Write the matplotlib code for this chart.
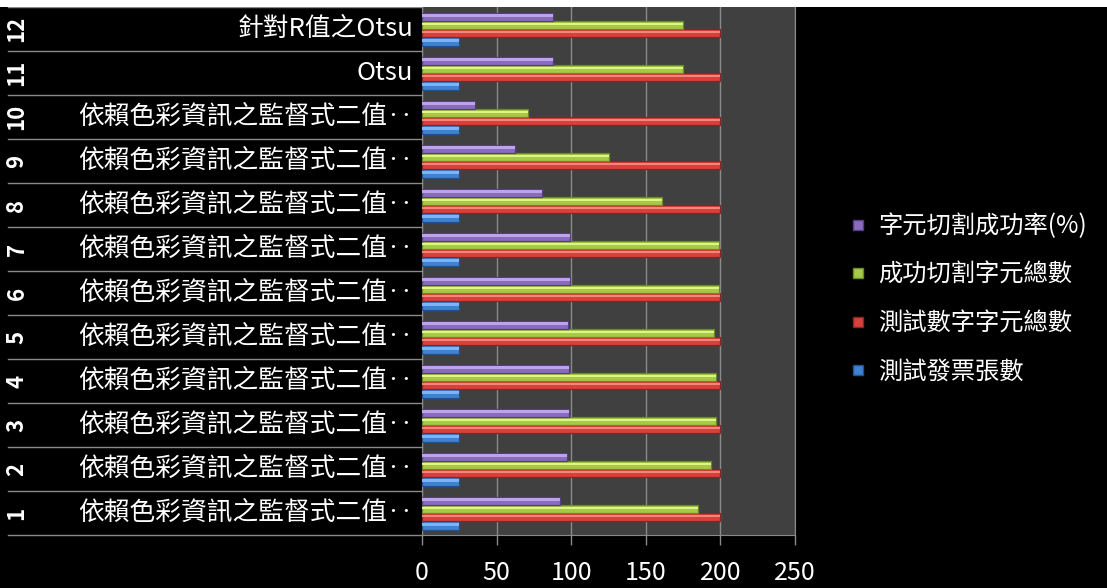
import matplotlib
matplotlib.use("Agg")
import matplotlib.pyplot as plt
import matplotlib.transforms as mtransforms
from matplotlib.patches import Rectangle
from matplotlib.lines import Line2D
import numpy as np

plt.rcParams['font.family'] = ['Noto Sans CJK TC', 'DejaVu Sans']

# data, row 1 at the bottom
ROW_NUMBERS = [str(i) for i in range(1, 13)]
METHODS = ["依賴色彩資訊之監督式二值‥"] * 10 + ["Otsu", "針對R值之Otsu"]
INVOICES = [25, 25, 25, 25, 25, 25, 25, 25, 25, 25, 25, 25]
TEST_CHARS = [200, 200, 200, 200, 200, 200, 200, 200, 200, 200, 200, 200]
SEGMENTED = [185, 194, 197, 197, 196, 199, 199, 161, 125, 71, 175, 175]
SUCCESS_RATE = [92.5, 97, 98.5, 98.5, 98, 99.5, 99.5, 80.5, 62.5, 35.5, 87.5, 87.5]
SERIES_NAMES = ["測試發票張數", "測試數字字元總數", "成功切割字元總數", "字元切割成功率(%)"]
X_TICKS = [0, 50, 100, 150, 200, 250]

# (main, highlight, dark edge)
COLORS = [
    ("#3f82d2", "#7ab6f5", "#22508a"),
    ("#d8403c", "#f5847b", "#862623"),
    ("#a6ca48", "#dcf585", "#6a8a28"),
    ("#8a6bc0", "#bca4e8", "#553f80"),
]

W, H = 1107, 588
fig = plt.figure(figsize=(W / 100, H / 100), dpi=100, facecolor="black")
ax = fig.add_axes([422 / W, (H - 535) / H, (795 - 422) / W, (535 - 7) / H])
ax.set_facecolor("#404040")

y = np.arange(1, 13)
h = 0.1875
offsets = [-1.5 * h, -0.5 * h, 0.5 * h, 1.5 * h]
series = [INVOICES, TEST_CHARS, SEGMENTED, SUCCESS_RATE]
handles = []
for vals, off, (main, light, dark) in zip(series, offsets, COLORS):
    ax.barh(y + off, vals, height=h, color=main, edgecolor=dark, linewidth=0.9, zorder=3)
    ax.barh(y + off + h * 0.12, vals, height=h * 0.3, color=light, linewidth=0, zorder=4)
    handles.append(Line2D([], [], marker="s", linestyle="none", markersize=7.5,
                          markerfacecolor=main, markeredgecolor=dark))

ax.set_xlim(0, 250)
ax.set_ylim(0.5, 12.5)
ax.set_xticks(X_TICKS)
ax.set_yticks([])
ax.tick_params(axis="x", colors="#8a8a8a", length=7, width=1, labelcolor="white",
               labelsize=18, pad=11)
ax.grid(axis="x", color="#8a8a8a", linewidth=1, zorder=1)
ax.set_axisbelow(True)
for s in ["left", "bottom", "right"]:
    ax.spines[s].set_color("#8a8a8a")
ax.spines["top"].set_visible(False)

# label table on the left
trans = mtransforms.blended_transform_factory(fig.transFigure, ax.transData)
for k in range(13):
    ax.axhline(0.5 + k, xmin=(8 - 422) / 373, xmax=0, color="#8a8a8a",
               linewidth=1, clip_on=False)
for yi, num, name in zip(y, ROW_NUMBERS, METHODS):
    ax.text(17 / W, yi, num, transform=trans, rotation=90, ha="center", va="center",
            color="white", fontsize=16, fontweight="bold")
    ax.text(413 / W, yi, name, transform=trans, ha="right", va="center",
            color="white", fontsize=18.5)

fig.legend(handles[::-1], SERIES_NAMES[::-1], loc="center left",
           bbox_to_anchor=(828 / W, 1 - 299 / H), frameon=False, fontsize=17.5,
           labelcolor="white", handlelength=0.7, handletextpad=0.45, labelspacing=0.93)

# white strip at the top of the screenshot
fig.add_artist(Rectangle((0, 1 - 7 / H), 1, 7 / H, transform=fig.transFigure,
                         facecolor="white", edgecolor="none", zorder=10))

fig.savefig("out.png", dpi=100, facecolor="black")
